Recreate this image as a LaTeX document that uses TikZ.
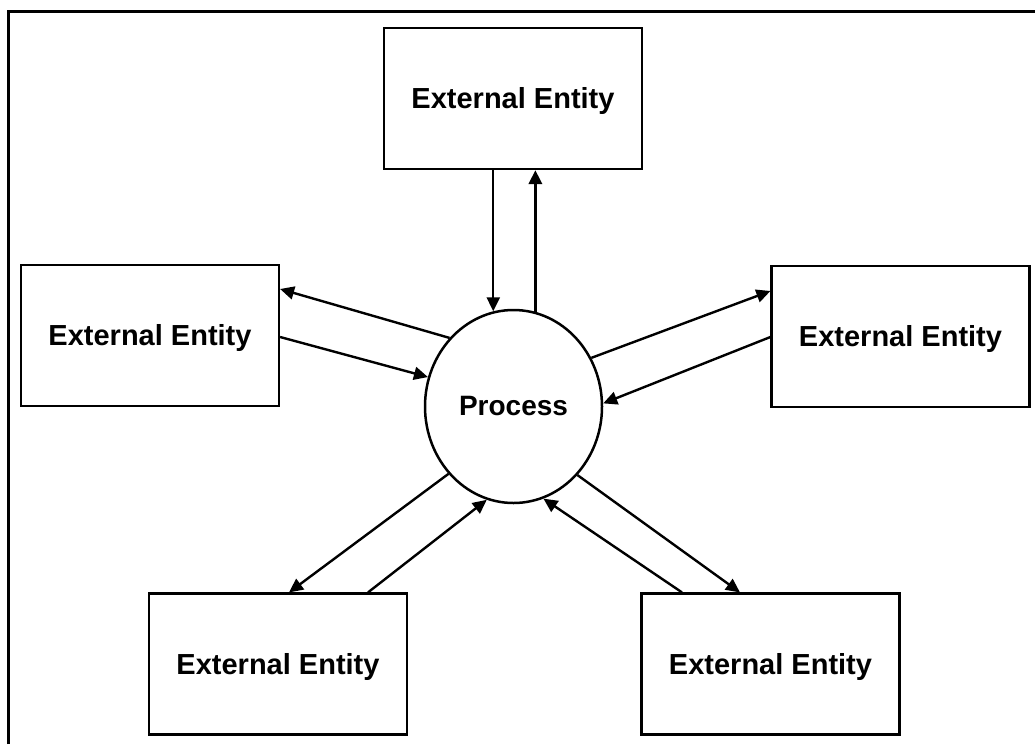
\documentclass[tikz,border=0pt]{standalone}
\usepackage{fontspec}
\setmainfont{Liberation Sans}
\usetikzlibrary{arrows.meta,shapes.geometric}
\begin{document}
\begin{tikzpicture}[x=1pt,y=-1pt,
  entity/.style={draw, line width=2.2pt, rectangle, minimum width=258pt, minimum height=141pt,
    inner sep=0pt, text height=20.5pt, text depth=0pt, font=\fontsize{29}{34}\selectfont\bfseries},
  proc/.style={draw, line width=2.5pt, ellipse, minimum width=177pt, minimum height=193pt,
    inner sep=0pt, text height=18pt, text depth=0pt, font=\fontsize{28}{34}\selectfont\bfseries},
  flow/.style={line width=2.4pt, -{Triangle[length=14pt,width=13pt]}},
  heavyflow/.style={line width=3.4pt, -{Triangle[length=14pt,width=13pt]}}]
  \useasboundingbox (0,0) rectangle (1035,744);
  % frame along the left and top edges
  \draw[line width=3pt] (8,744) -- (8,11.5) -- (1035,11.5);

  % process and external entities
  \node[proc]   (p)  at (513.5,406.5) {Process};
  \node[entity] (t)  at (513,98.5)    {External Entity};
  \node[entity] (l)  at (150,335.5)   {External Entity};
  \node[entity] (r)  at (900.5,336.5) {External Entity};
  \node[entity] (bl) at (278,664)     {External Entity};
  \node[entity] (br) at (770.5,664)   {External Entity};

  % top entity
  \draw[flow]      (t.south -| p.102.3) -- (p.102.3);
  \draw[heavyflow] (p.77.1) -- (p.77.1 |- t.south);
  % left entity
  \draw[flow] (p.133.7) -- ([yshift=46.5pt]l.east);
  \draw[flow] ([yshift=-1.5pt]l.east) -- (p.161);
  % right entity
  \draw[flow] (p.32) -- ([yshift=45.5pt]r.west);
  \draw[flow] ([yshift=-0.5pt]r.west) -- (p.2);
  % lower left entity
  \draw[flow] (p.226.7) -- ([xshift=11pt]bl.north);
  \draw[flow] ([xshift=90pt]bl.north) -- (p.254);
  % lower right entity
  \draw[flow] ([xshift=-88.5pt]br.north) -- (p.288);
  \draw[flow] (p.313) -- ([xshift=-30.5pt]br.north);
\end{tikzpicture}
\end{document}
